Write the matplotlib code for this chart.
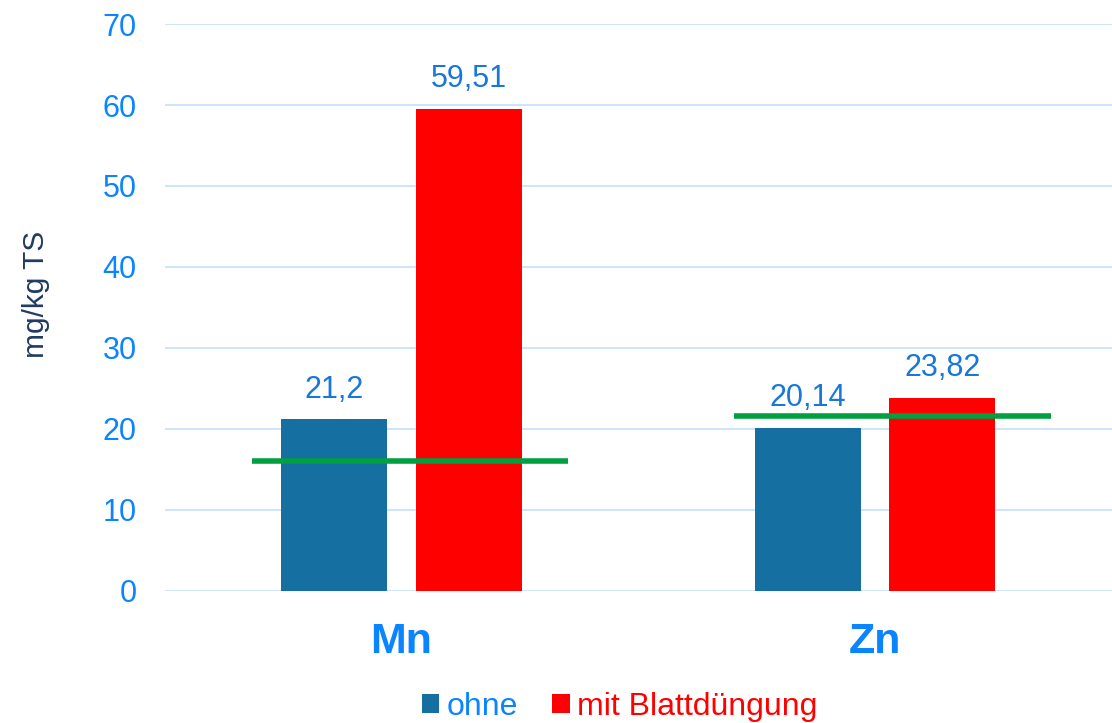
import matplotlib
matplotlib.use("Agg")
import matplotlib.pyplot as plt
import numpy as np

plt.rcParams['font.family'] = ['Liberation Sans', 'DejaVu Sans']

categories = ["Mn", "Zn"]
series_names = ["ohne", "mit Blattdüngung"]
ohne = [21.2, 20.14]
mit = [59.51, 23.82]
value_labels_ohne = ["21,2", "20,14"]
value_labels_mit = ["59,51", "23,82"]
reference_values = [16.0, 21.6]
reference_start = [-0.316, -0.299]
reference_end = [0.352, 0.371]
yticks = [0, 10, 20, 30, 40, 50, 60, 70]

blue_bar = "#156FA0"
red_bar = "#FF0000"
green = "#00A040"
tick_blue = "#0A84FF"
label_blue = "#1877DA"
dark_blue = "#1F3B63"
grid_col = "#C9E2FA"

fig = plt.figure(figsize=(11.12, 7.23), dpi=100)
ax = fig.add_axes([0.148, 0.1826, 0.852, 0.7842])

x = np.arange(len(categories))
w = 0.224
off = 0.142
b1 = ax.bar(x - off, ohne, w, color=blue_bar, zorder=2, label=series_names[0])
b2 = ax.bar(x + off, mit, w, color=red_bar, zorder=2, label=series_names[1])

for i in range(len(categories)):
    ax.plot([x[i] + reference_start[i], x[i] + reference_end[i]],
            [reference_values[i]] * 2, color=green, lw=4, zorder=3,
            solid_capstyle='butt')
    ax.annotate(value_labels_ohne[i], (x[i] - off, ohne[i]), xytext=(0, 10.5),
                textcoords='offset points', ha='center', va='bottom',
                fontsize=22, color=label_blue, zorder=4)
    ax.annotate(value_labels_mit[i], (x[i] + off, mit[i]), xytext=(0, 10.5),
                textcoords='offset points', ha='center', va='bottom',
                fontsize=22, color=label_blue, zorder=4)

ax.set_xlim(-0.5, 1.5)
ax.set_ylim(0, 70)
ax.set_yticks(yticks)
ax.set_yticklabels([str(t) for t in yticks], fontsize=22, color=tick_blue)
ax.tick_params(axis='y', length=0, pad=20)
ax.set_xticks(x)
ax.set_xticklabels(categories, fontsize=31, fontweight='bold', color=tick_blue)
ax.tick_params(axis='x', length=0, pad=22)
ax.yaxis.grid(True, color=grid_col, lw=1.3, zorder=0)
ax.set_axisbelow(True)
for s in ax.spines.values():
    s.set_visible(False)
fig.text(36 / 1112, 1 - 294 / 723, "mg/kg TS", rotation=90, fontsize=21.5,
         color=dark_blue, ha='center', va='center')

leg = fig.legend(handles=[b1, b2], labels=series_names, loc='center',
                 bbox_to_anchor=(0.557, 0.022), ncol=2, frameon=False,
                 fontsize=23, handlelength=0.55, handleheight=0.55,
                 handletextpad=0.22, columnspacing=1.07)
leg.get_texts()[0].set_color(tick_blue)
leg.get_texts()[1].set_color(red_bar)

fig.savefig("out.png", dpi=100)
